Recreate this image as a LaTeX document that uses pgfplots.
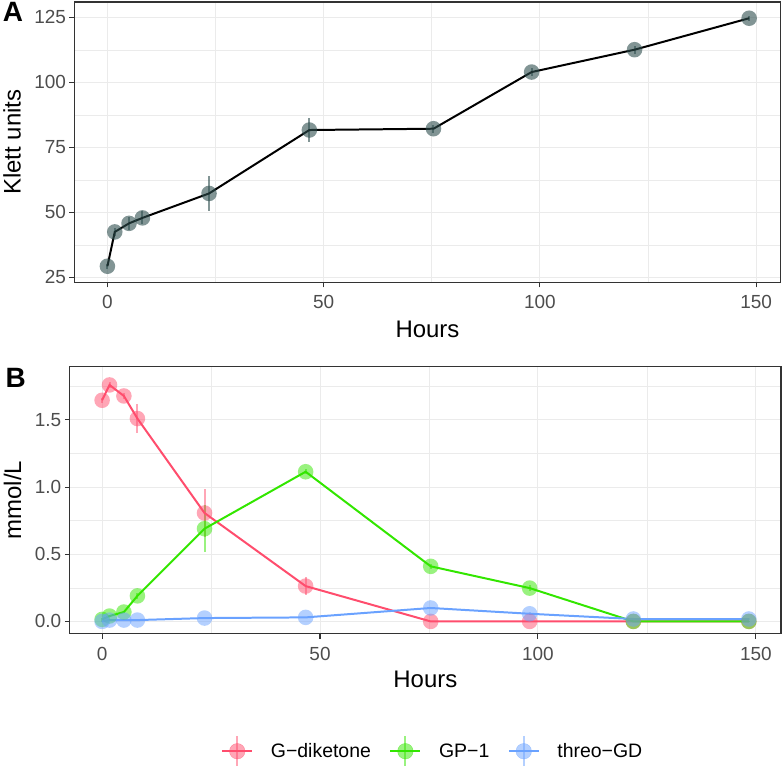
\documentclass[border=0pt]{standalone}
\usepackage{fontspec}
\setmainfont{Liberation Sans}
\usepackage{pgfplots}
\usepackage{pgfplotstable}
\pgfplotsset{compat=1.18}

\definecolor{gdk}{HTML}{FF4D6D}
\definecolor{gpo}{HTML}{33E600}
\definecolor{thr}{HTML}{6AA2FF}
\definecolor{slate}{HTML}{2F4F4F}
\definecolor{gridc}{HTML}{EBEBEB}
\definecolor{framec}{HTML}{333333}
\definecolor{ticklab}{HTML}{4D4D4D}

\pgfplotstableread{
x y e
0 29.3 1.0
1.7 42.5 1.5
5.0 45.8 2.5
8.1 47.9 2.5
23.5 57.3 6.7
46.7 81.7 4.8
75.4 82.2 1.5
98.1 104.0 1.5
121.9 112.6 1.5
148.4 124.7 1.0
}\klett

\pgfplotstableread{
x gd gde gp gpe th the
0 1.646 0.02 0.015 0.01 0.000 0.005
1.7 1.760 0.02 0.040 0.01 0.010 0.005
5.0 1.678 0.02 0.070 0.01 0.010 0.005
8.1 1.510 0.105 0.190 0.02 0.010 0.005
23.5 0.807 0.18 0.690 0.173 0.025 0.005
46.7 0.263 0.07 1.114 0.02 0.030 0.005
75.4 0.000 0.005 0.410 0.02 0.100 0.01
98.1 0.000 0.005 0.248 0.02 0.057 0.01
121.9 0.000 0.005 0.000 0.005 0.018 0.005
148.4 0.000 0.005 0.000 0.005 0.018 0.005
}\conc

\pgfplotsset{
  ggbase/.style={
    scale only axis,
    axis line style={framec, line width=1.4pt},
    tick align=outside, tick pos=left,
    major tick length=5pt, minor tick length=0pt,
    major tick style={framec, line width=1.1pt},
    minor tick style={draw=none},
    tick label style={font=\fontsize{19}{22}\selectfont, text=ticklab},
    label style={font=\fontsize{24}{28}\selectfont},
    xmajorgrids, ymajorgrids, xminorgrids, yminorgrids,
    major grid style={draw=gridc, line width=1pt},
    minor grid style={draw=gridc, line width=0.5pt},
    /pgf/number format/assume math mode=true,
    scaled ticks=false,
    xtick={0,50,100,150},
    minor xtick={25,75,125},
  },
  ptstyle/.style={only marks, mark=*, mark size=7.8pt, color=#1, line width=2pt,
    mark options={draw opacity=0, fill=#1, fill opacity=0.5},
    /pgfplots/error bars/y dir=both,
    /pgfplots/error bars/y explicit,
    /pgfplots/error bars/error mark=none,
    /pgfplots/error bars/error bar style={draw=#1, opacity=0.5, line width=2pt}},
}

\begin{document}
\begin{tikzpicture}
\path (0pt,0pt) rectangle (783pt,770pt);
\node[anchor=base west, inner sep=0pt, font=\fontsize{28}{30}\selectfont\bfseries] at (1pt,748.3pt) {A};
\node[anchor=base west, inner sep=0pt, font=\fontsize{28}{30}\selectfont\bfseries] at (3.7pt,381.7pt) {B};

\begin{axis}[ggbase,
  at={(73pt,487pt)}, anchor=south west,
  width=707.5pt, height=281pt,
  xmin=-7.62, xmax=155.65, ymin=23.08, ymax=130.95,
  ytick={25,50,75,100,125},
  minor ytick={37.5,62.5,87.5,112.5},
  xticklabel style={yshift=-4pt},
  xlabel={Hours}, ylabel={Klett units},
  xlabel style={at={(axis description cs:0.5,-0.167)}, anchor=center},
  ylabel style={at={(axis description cs:-0.0883,0.5)}, anchor=center},
]
\addplot[forget plot, only marks, mark=*, mark size=7.8pt, color=slate, line width=2pt,
    mark options={draw opacity=0, fill=slate, fill opacity=0.6},
    /pgfplots/error bars/y dir=both,
    /pgfplots/error bars/y explicit,
    /pgfplots/error bars/error mark=none,
    /pgfplots/error bars/error bar style={draw=slate, opacity=0.6, line width=2pt}]
  table[x=x, y=y, y error=e] {\klett};
\addplot[forget plot, black, line width=2pt, mark=none] table[x=x, y=y] {\klett};
\end{axis}

\begin{axis}[ggbase,
  at={(68.3pt,135pt)}, anchor=south west,
  width=712.7pt, height=267.7pt,
  xmin=-7.42, xmax=155.78, ymin=-0.0913, ymax=1.897,
  ytick={0,0.5,1,1.5},
  minor ytick={0.25,0.75,1.25,1.75},
  yticklabel style={/pgf/number format/.cd, fixed, fixed zerofill, precision=1},
  xticklabel style={yshift=-5pt},
  xlabel={Hours}, ylabel={mmol/L},
  xlabel style={at={(axis description cs:0.5,-0.170)}, anchor=center},
  ylabel style={at={(axis description cs:-0.0804,0.5)}, anchor=center},
  legend style={at={(axis description cs:0.509,-0.44)}, anchor=center,
    draw=none, fill=none, legend columns=3,
    font=\fontsize{19.5}{22}\selectfont,
    nodes={inner sep=0pt},
    /tikz/every odd column/.append style={column sep=17.7pt},
    /tikz/every even column/.append style={column sep=18.5pt}},
]
\addlegendimage{legend image code/.code={
  \fill[gdk, opacity=0.5] (15pt,0pt) circle (7.8pt);
  \draw[gdk, opacity=0.5, line width=2pt] (15pt,-15pt) -- (15pt,15pt);
  \draw[gdk, line width=2pt] (0pt,0pt) -- (30pt,0pt);}}
\addlegendentry{G−diketone}
\addlegendimage{legend image code/.code={
  \fill[gpo, opacity=0.5] (15pt,0pt) circle (7.8pt);
  \draw[gpo, opacity=0.5, line width=2pt] (15pt,-15pt) -- (15pt,15pt);
  \draw[gpo, line width=2pt] (0pt,0pt) -- (30pt,0pt);}}
\addlegendentry{GP−1}
\addlegendimage{legend image code/.code={
  \fill[thr, opacity=0.5] (15pt,0pt) circle (7.8pt);
  \draw[thr, opacity=0.5, line width=2pt] (15pt,-15pt) -- (15pt,15pt);
  \draw[thr, line width=2pt] (0pt,0pt) -- (30pt,0pt);}}
\addlegendentry{threo−GD}

\addplot[forget plot, ptstyle=gdk] table[x=x, y=gd, y error=gde] {\conc};
\addplot[forget plot, ptstyle=gpo] table[x=x, y=gp, y error=gpe] {\conc};
\addplot[forget plot, ptstyle=thr] table[x=x, y=th, y error=the] {\conc};
\addplot[gdk, line width=2pt, mark=none, forget plot] table[x=x, y=gd] {\conc};
\addplot[gpo, line width=2pt, mark=none, forget plot] table[x=x, y=gp] {\conc};
\addplot[thr, line width=2pt, mark=none, forget plot] table[x=x, y=th] {\conc};
\end{axis}
\end{tikzpicture}
\end{document}
